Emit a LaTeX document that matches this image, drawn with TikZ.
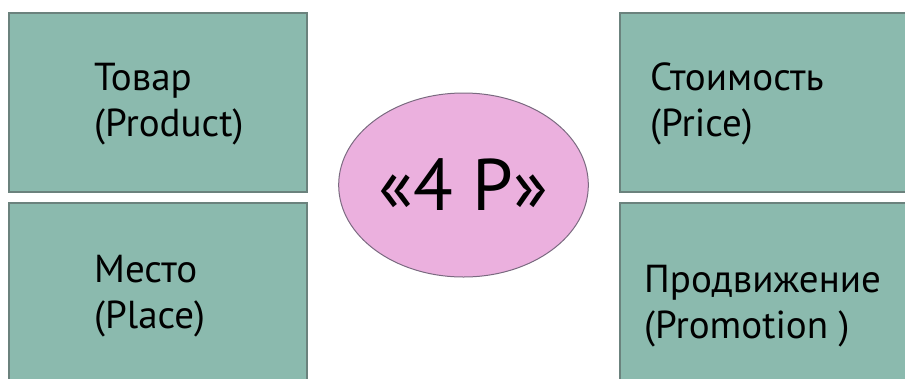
\documentclass[tikz,border=0pt]{standalone}
\usepackage{fontspec}
\setmainfont{PT Sans}
\usepackage{tikz}
\usetikzlibrary{shapes.geometric,positioning}
\definecolor{boxfill}{HTML}{8BBAAE}
\definecolor{boxline}{HTML}{6B827D}
\definecolor{ovalfill}{HTML}{EBB0DE}
\definecolor{ovalline}{HTML}{7A6A80}
\tikzset{pbox/.style={rectangle,draw=boxline,line width=1.6pt,fill=boxfill,inner sep=0pt},
ptext/.style={anchor=west,align=left,inner sep=0pt,font=\fontsize{39}{46}\selectfont}}

\begin{document}
\begin{tikzpicture}[x=1pt,y=-1pt]
\useasboundingbox (0,0) rectangle (905,378);
%
\begin{scope} % boxes
\foreach \n/\x/\y/\w/\h in {product/158/102.5/298/179,place/158/296.5/298/187,
price/766/102.5/292/179,promotion/766/296.5/292/187}
\node[pbox,minimum width=\w pt,minimum height=\h pt] (\n) at (\x,\y) {};
\end{scope}
%
\node[ptext] (tproduct) at (94,104) {Товар\\(Product)};
\node[ptext] (tplace) at (94,296) {Место\\(Place)};
\node[ptext] (tprice) at (650,104) {Стоимость\\(Price)};
\node[ptext] (tpromotion) at (644,306) {Продвижение\\(Promotion )};
%
\node[ellipse,draw=ovalline,line width=1pt,fill=ovalfill,minimum width=243pt,minimum height=184pt,
font=\fontsize{73}{80}\selectfont] (fourp) at (463.5,185) {«4 P»};
%
\end{tikzpicture}
\end{document}
